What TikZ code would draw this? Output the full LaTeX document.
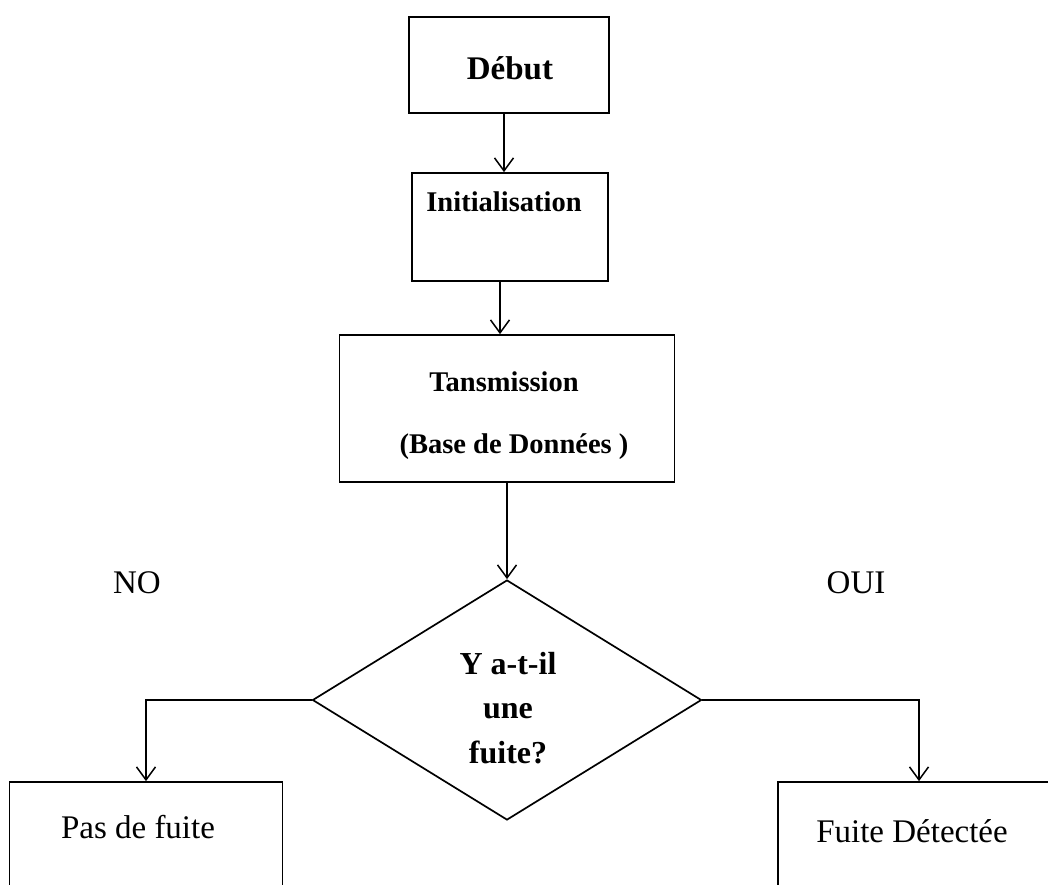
\documentclass[tikz,border=0pt]{standalone}
\usepackage{fontspec}
\setmainfont{Liberation Serif}
\usetikzlibrary{arrows.meta,shapes.geometric}
\begin{document}
\begin{tikzpicture}[x=1pt,y=-1pt,
  box/.style={draw=black, line width=1.7pt, rectangle, inner sep=0pt},
  conn/.style={draw=black, line width=1.5pt, -{Straight Barb[length=13pt,width=19pt]}},
  btxt/.style={font=\fontsize{28.5}{34}\selectfont\bfseries, inner sep=0pt, align=center},
  rtxt/.style={font=\fontsize{33}{40}\selectfont, inner sep=0pt}]
\useasboundingbox[fill=white] (0,0) rectangle (1048,884);
\clip (0,0) rectangle (1048,884);
% boxes
\node[box, minimum width=200pt, minimum height=96pt] (debut) at (509,65) {};
\node[btxt, font=\fontsize{33}{40}\selectfont\bfseries] (debutT) at (510,68) {Début};
\node[box, minimum width=196pt, minimum height=108pt] (init) at (510,227) {};
\node[btxt] (initT) at (504,202) {Initialisation};
\node[box, minimum width=335pt, minimum height=147pt] (trans) at (507,408.5) {};
\node[btxt] (transT) at (504,382) {Tansmission};
\node[btxt] (transT2) at (514,447) {(Base de Données )};
\node[diamond, draw=black, line width=1.7pt, inner sep=0pt, minimum width=389pt, minimum height=240pt] (dec) at (507,700) {};
\node[btxt, font=\fontsize{32}{44.5}\selectfont\bfseries] (decT) at (508,708) {Y a-t-il\\une\\fuite?};
\node[box, minimum width=273pt, minimum height=130pt] (nofuite) at (146,847) {};
\node[rtxt] (nofuiteT) at (138,827) {Pas de fuite};
\node[box, minimum width=282pt, minimum height=130pt] (fuite) at (919,847) {};
\node[rtxt] (fuiteT) at (912,831) {Fuite Détectée};
% labels
\node[rtxt] (no) at (137,583) {NO};
\node[rtxt] (oui) at (856,583) {OUI};
% connectors
\draw[conn] ([xshift=-5pt]debut.south) -- ([xshift=-6pt]init.north);
\draw[conn] ([xshift=-10pt]init.south) -- ([xshift=-7pt]trans.north);
\draw[conn] (trans.south) -- (dec.north);
\draw[conn] (dec.west) -| (nofuite.north);
\draw[conn] (dec.east) -| (fuite.north);
\end{tikzpicture}
\end{document}
